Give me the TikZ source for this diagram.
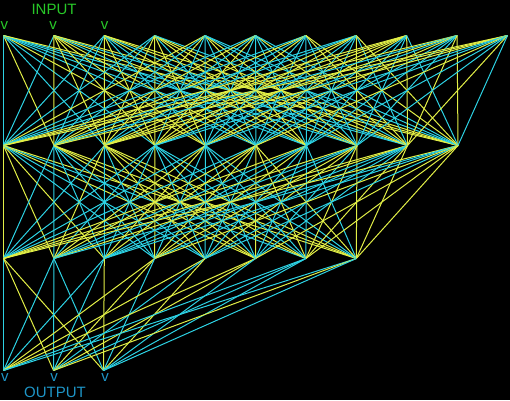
\documentclass[tikz,border=0pt]{standalone}
\usepackage{fontspec}
\setmainfont{Liberation Sans}
\definecolor{ylw}{RGB}{225,238,70}
\definecolor{cyn}{RGB}{45,210,228}
\definecolor{ingreen}{RGB}{40,200,40}
\definecolor{outblue}{RGB}{30,150,200}
\begin{document}
\begin{tikzpicture}[x=1pt,y=-1pt,
  edge/.style={line width=1pt},
  lbl/.style={inner sep=0pt,anchor=center,font=\fontsize{15}{15}\selectfont}]
\fill[black] (0,0) rectangle (510,400);
\useasboundingbox (0,0) rectangle (510,400);
\foreach \i in {0,...,10}{\coordinate (a\i) at ({3.5+50.4*\i},35.5);}
\foreach \i in {0,...,9}{\coordinate (b\i) at ({3.5+50.5*\i},145.5);}
\foreach \i in {0,...,7}{\coordinate (c\i) at ({3.5+50.4*\i},258.5);}
\foreach \i in {0,...,2}{\coordinate (d\i) at ({3.5+50*\i},370.5);}
\pgfmathsetseed{7}
\foreach \i in {0,...,10}{\foreach \j in {0,...,9}{%
  \pgfmathrandominteger{\r}{0}{1}%
  \ifnum\r=0 \draw[edge,ylw] (a\i) -- (b\j);\else \draw[edge,cyn] (a\i) -- (b\j);\fi}}
\foreach \i in {0,...,9}{\foreach \j in {0,...,7}{%
  \pgfmathrandominteger{\r}{0}{1}%
  \ifnum\r=0 \draw[edge,ylw] (b\i) -- (c\j);\else \draw[edge,cyn] (b\i) -- (c\j);\fi}}
\foreach \i in {0,...,7}{\foreach \j in {0,...,2}{%
  \pgfmathrandominteger{\r}{0}{1}%
  \ifnum\r=0 \draw[edge,ylw] (c\i) -- (d\j);\else \draw[edge,cyn] (c\i) -- (d\j);\fi}}
\node[lbl,ingreen] (intxt) at (54,9) {INPUT};
\node[lbl,ingreen] (vi0) at (4.5,26) {v};
\node[lbl,ingreen] (vi1) at (53,26) {v};
\node[lbl,ingreen] (vi2) at (104.5,26) {v};
\node[lbl,outblue] (vo0) at (5,378) {v};
\node[lbl,outblue] (vo1) at (54,378) {v};
\node[lbl,outblue] (vo2) at (105,378) {v};
\node[lbl,outblue] (outtxt) at (55,392) {OUTPUT};
\end{tikzpicture}
\end{document}
